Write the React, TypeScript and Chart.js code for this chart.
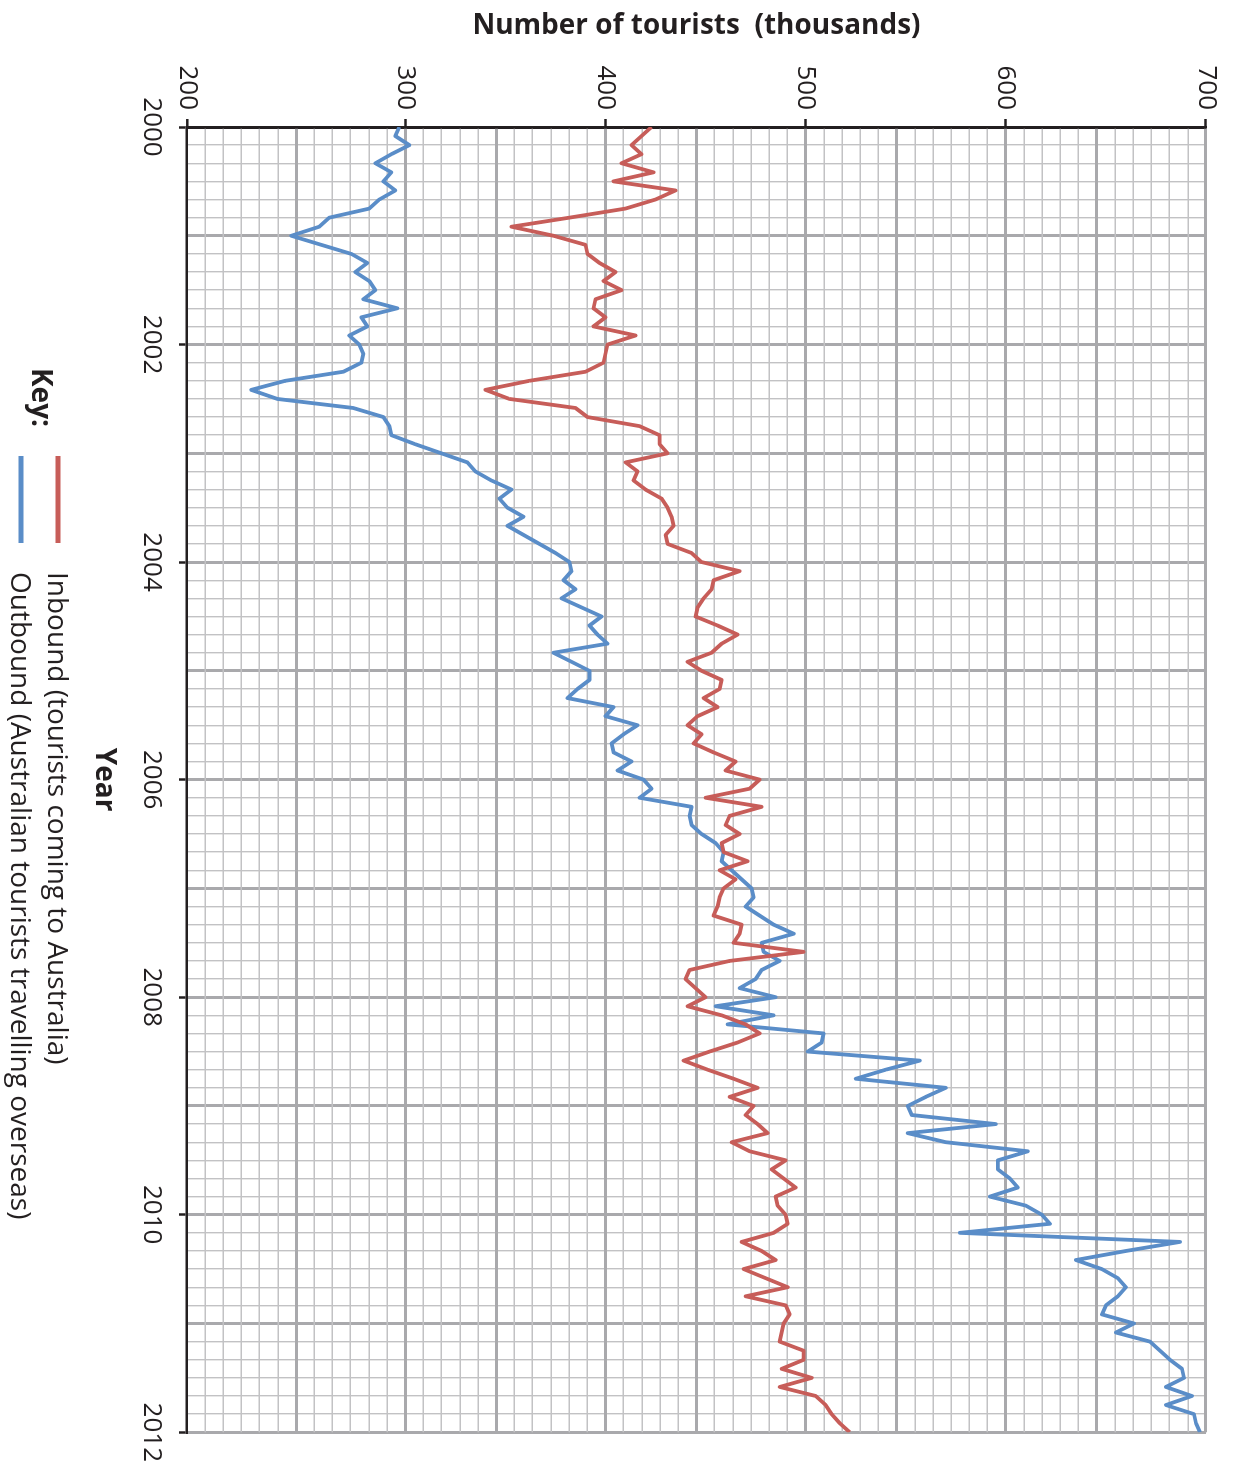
import React, { useEffect, useRef } from 'react';
import { Chart, registerables, ChartConfiguration, Plugin } from 'chart.js';

Chart.register(...registerables);

// Monthly figures, Jan 2000 to Jan 2012, in thousands of tourists
const START_YEAR = 2000;
const END_YEAR = 2012;

const inbound: number[] = [
  423, 418, 413, 418, 408, 424, 404, 435, 425, 410, 382, 353, 374,
  390, 391, 397, 405, 399, 408, 395, 394, 400, 394, 415, 401,
  400, 399, 390, 362, 340, 352, 385, 391, 417, 427, 427, 431,
  410, 416, 414, 420, 428, 431, 433, 434, 430, 431, 443, 448,
  467, 454, 453, 449, 446, 445, 456, 466, 458, 453, 441, 448,
  458, 457, 449, 456, 446, 441, 448, 444, 454, 465, 460, 477,
  472, 450, 478, 462, 460, 467, 458, 459, 471, 457, 465, 459,
  457, 456, 454, 468, 467, 464, 499, 462, 442, 440, 445, 450,
  441, 458, 470, 477, 466, 452, 439, 451, 464, 476, 462, 474,
  470, 476, 481, 463, 472, 490, 483, 489, 495, 485, 486, 490,
  491, 484, 468, 478, 485, 469, 480, 491, 470, 490, 492, 489,
  488, 487, 499, 499, 488, 503, 487, 505, 510, 513, 517, 522,
];

const outbound: number[] = [
  297, 295, 302, 293, 285, 293, 289, 295, 287, 282, 262, 257, 243,
  258, 273, 281, 275, 282, 285, 279, 296, 278, 281, 272, 277,
  279, 278, 269, 240, 223, 236, 274, 289, 292, 293, 305, 318,
  331, 335, 343, 353, 347, 351, 359, 351, 359, 367, 375, 382,
  383, 379, 385, 378, 388, 398, 392, 396, 401, 374, 383, 392,
  392, 386, 381, 404, 400, 416, 409, 403, 404, 413, 406, 419,
  423, 417, 443, 442, 443, 448, 455, 459, 458, 463, 468, 473,
  474, 470, 477, 484, 494, 478, 479, 487, 478, 475, 467, 485,
  455, 484, 461, 509, 508, 501, 557, 540, 525, 570, 560, 551,
  553, 595, 551, 570, 611, 596, 596, 602, 606, 592, 610, 618,
  622, 577, 687, 660, 635, 648, 656, 660, 656, 650, 648, 664,
  655, 672, 677, 682, 688, 689, 680, 693, 680, 694, 695, 697,
];

const seriesNames = [
  'Inbound (tourists coming to Australia)',
  'Outbound (Australian tourists travelling overseas)',
];
const yearLabels = [2000, 2002, 2004, 2006, 2008, 2010, 2012];
const valueLabels = [200, 300, 400, 500, 600, 700];

// the graph paper: 11 squares per hundred, but "200" is printed 12 squares below 300
const SQUARE = 100 / 11;
const VALUE_MIN = 300 - 12 * SQUARE;
const VALUE_MAX = 700;
const squareOfLabel = (v: number) => (v === 200 ? 0 : 12 + ((v - 300) / 100) * 11);
const labelSquares = new Map(valueLabels.map(v => [squareOfLabel(v), String(v)]));
const thickSquare = (i: number) =>
  i > 0 && (labelSquares.has(i) || labelSquares.has(i + 6));

const STEPS_PER_YEAR = 6;

const FONT = "'Open Sans', sans-serif";
const TEXT = '#231f20';
const RED = '#c75d59';
const BLUE = '#5a8dc8';
const MINOR = '#c2c2c4';
const MAJOR = '#a9a9ac';

const toPoints = (values: number[]) =>
  values.map((v, i) => ({ x: START_YEAR + i / 12, y: v }));

const keyPlugin: Plugin = {
  id: 'key',
  afterDraw(chart) {
    const { ctx } = chart;
    const h = chart.height;
    ctx.save();
    ctx.fillStyle = TEXT;
    ctx.textBaseline = 'middle';
    ctx.font = `bold 28px ${FONT}`;
    ctx.fillText('Key:', 368, h - 40);
    chart.data.datasets.forEach((ds, i) => {
      const y = h - 58 + i * 37;
      ctx.strokeStyle = ds.borderColor as string;
      ctx.lineWidth = 5;
      ctx.beginPath();
      ctx.moveTo(456, y);
      ctx.lineTo(543, y);
      ctx.stroke();
      ctx.font = `28px ${FONT}`;
      ctx.fillText(String(ds.label), 572, y + 2);
    });
    ctx.restore();
  },
};

const TourismChart: React.FC = () => {
  const canvasRef = useRef<HTMLCanvasElement | null>(null);

  useEffect(() => {
    if (!canvasRef.current) return;

    const config: ChartConfiguration<'line'> = {
      type: 'line',
      data: {
        datasets: [
          {
            label: seriesNames[0],
            data: toPoints(inbound),
            borderColor: RED,
            borderWidth: 3.8,
            borderJoinStyle: 'round',
            pointRadius: 0,
            tension: 0,
          },
          {
            label: seriesNames[1],
            data: toPoints(outbound),
            borderColor: BLUE,
            borderWidth: 3.8,
            borderJoinStyle: 'round',
            pointRadius: 0,
            tension: 0,
          },
        ],
      },
      options: {
        responsive: false,
        animation: false,
        layout: { padding: { left: 0, top: 30, right: 37, bottom: 0 } },
        plugins: {
          legend: { display: false },
          tooltip: { enabled: false },
        },
        scales: {
          x: {
            type: 'linear',
            min: START_YEAR,
            max: END_YEAR,
            afterFit: (scale: any) => {
              scale.height = 187;
            },
            afterBuildTicks: (scale: any) => {
              const n = (END_YEAR - START_YEAR) * STEPS_PER_YEAR;
              scale.ticks = Array.from({ length: n + 1 }, (_, j) => ({
                value: START_YEAR + j / STEPS_PER_YEAR,
              }));
            },
            ticks: {
              autoSkip: false,
              maxRotation: 0,
              minRotation: 0,
              padding: 12,
              color: TEXT,
              font: { family: FONT, size: 26 },
              callback: (value: any) => {
                const yr = Math.round(Number(value) * STEPS_PER_YEAR) / STEPS_PER_YEAR;
                return yearLabels.includes(yr) ? String(yr) : '';
              },
            },
            grid: {
              color: (c: any) =>
                c.index === 0 ? TEXT : c.index % STEPS_PER_YEAR === 0 ? MAJOR : MINOR,
              lineWidth: (c: any) => (c.index % STEPS_PER_YEAR === 0 ? 3 : 1.4),
              tickLength: 8,
              tickColor: (c: any) => (c.index % 12 === 0 ? TEXT : 'rgba(0,0,0,0)'),
              tickWidth: 2.5,
            },
            border: { display: true, color: TEXT, width: 2.5 },
            title: {
              display: true,
              text: 'Year',
              color: TEXT,
              font: { family: FONT, size: 28, weight: 'bold' },
              padding: { top: 0, bottom: 87 },
            },
          },
          y: {
            type: 'linear',
            min: VALUE_MIN,
            max: VALUE_MAX,
            afterFit: (scale: any) => {
              scale.width = 127;
            },
            afterBuildTicks: (scale: any) => {
              const n = Math.round((VALUE_MAX - VALUE_MIN) / SQUARE);
              scale.ticks = Array.from({ length: n + 1 }, (_, i) => ({
                value: VALUE_MIN + i * SQUARE,
              }));
            },
            ticks: {
              autoSkip: false,
              padding: 9,
              color: TEXT,
              font: { family: FONT, size: 26 },
              callback: (_v: any, index: number) => labelSquares.get(index) ?? '',
            },
            grid: {
              color: (c: any) => (c.index === 0 ? TEXT : thickSquare(c.index) ? MAJOR : MINOR),
              lineWidth: (c: any) => (thickSquare(c.index) ? 3 : 1.4),
              tickLength: 8,
              tickColor: (c: any) => (labelSquares.has(c.index) ? TEXT : 'rgba(0,0,0,0)'),
              tickWidth: 2.5,
            },
            border: { display: true, color: TEXT, width: 2.5 },
            title: {
              display: true,
              text: 'Number of tourists  (thousands)',
              color: TEXT,
              font: { family: FONT, size: 28, weight: 'bold' },
              padding: { top: 9, bottom: 0 },
            },
          },
        },
      },
      plugins: [keyPlugin],
    };

    const chart = new Chart(canvasRef.current, config);
    return () => chart.destroy();
  }, []);

  return (
    <div
      style={{
        position: 'absolute',
        left: 0,
        top: 0,
        width: 1236,
        height: 1474,
        overflow: 'hidden',
        background: '#ffffff',
      }}
    >
      {/* drawn landscape, then turned a quarter clockwise like the printed sheet */}
      <div
        style={{
          position: 'absolute',
          left: 0,
          top: 0,
          width: 1474,
          height: 1236,
          transformOrigin: '0 0',
          transform: 'translate(1236px, 0) rotate(90deg)',
        }}
      >
        <canvas ref={canvasRef} width={1474} height={1236} />
      </div>
    </div>
  );
};

export default function App() {
  return <TourismChart />;
}
